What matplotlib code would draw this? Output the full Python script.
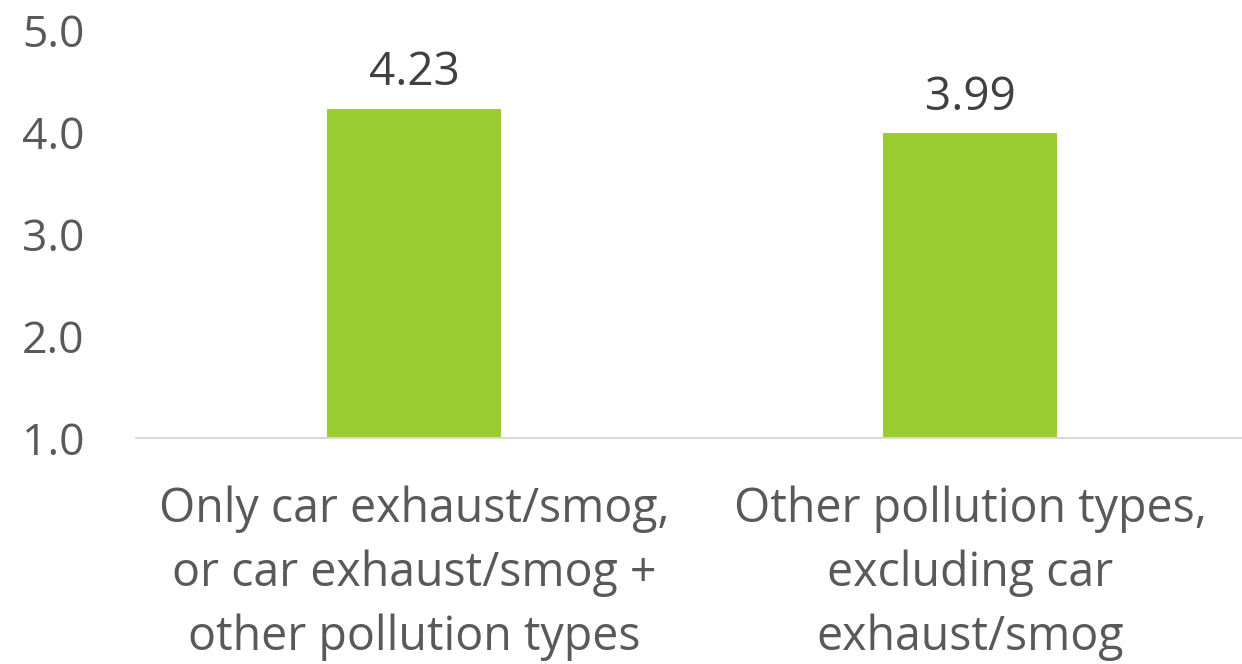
import matplotlib
matplotlib.use("Agg")
import matplotlib.pyplot as plt

# data
categories = ["Only car exhaust/smog,\nor car exhaust/smog +\nother pollution types",
              "Other pollution types,\nexcluding car\nexhaust/smog"]
values = [4.23, 3.99]
yticks = [1.0, 2.0, 3.0, 4.0, 5.0]

plt.rcParams['font.family'] = ['Open Sans', 'DejaVu Sans']
text_col = '#595959'

fig = plt.figure(figsize=(12.42, 6.64), dpi=100)
ax = fig.add_axes([0.1095, 0.3404, 0.8953, 0.6144])

x = range(len(categories))
bars = ax.bar(x, [v - 1.0 for v in values], bottom=1.0, width=0.313, color='#9ACD32')

for xi, v in zip(x, values):
    ax.annotate(f"{v:.2f}", (xi, v), xytext=(0, 9), textcoords='offset points',
                ha='center', va='bottom', fontsize=33, color='#404040')

ax.set_xlim(-0.5, 1.5)
ax.set_ylim(1.0, 5.0)
ax.set_yticks(yticks)
ax.set_yticklabels([f"{t:.1f}" for t in yticks])
ax.set_xticks(list(x))
ax.set_xticklabels(categories, linespacing=1.46)

ax.tick_params(axis='y', length=0, pad=37, labelsize=32, labelcolor=text_col)
ax.tick_params(axis='x', length=0, pad=34, labelsize=33.5, labelcolor=text_col)

for s in ['top', 'right', 'left']:
    ax.spines[s].set_visible(False)
ax.spines['bottom'].set_color('#D9D9D9')
ax.spines['bottom'].set_linewidth(1.5)

fig.savefig("out.png", dpi=100)
